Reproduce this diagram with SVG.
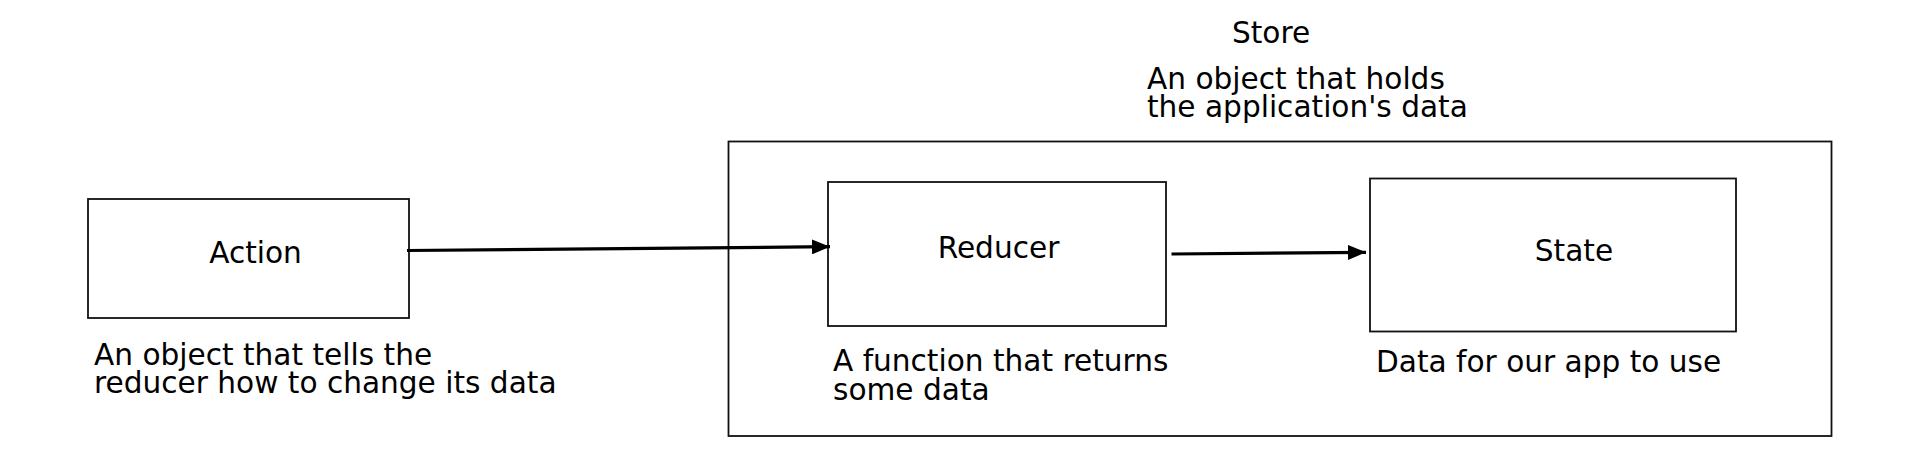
<svg xmlns="http://www.w3.org/2000/svg" width="1920" height="458" viewBox="0 0 1920 458">
  <style>
    .box { fill: none; stroke: #111; stroke-width: 1.8; }
    .t { font-family: "DejaVu Sans", sans-serif; font-size: 29.6px; fill: #000; }
    .c { text-anchor: middle; }
    .conn { stroke: #000; stroke-width: 3.2; fill: none; }
  </style>
  <defs>
    <marker id="arrow" markerWidth="18" markerHeight="15" refX="18" refY="7.5" orient="auto" markerUnits="userSpaceOnUse">
      <path d="M0,0 L18,7.5 L0,15 Z" fill="#000"/>
    </marker>
  </defs>
  <rect width="1920" height="458" fill="#fff"/>

  <g id="store">
    <rect class="box" x="728.5" y="141.5" width="1103" height="294.5"/>
    <text class="t c" x="1271" y="43">Store</text>
    <text class="t" x="1147" y="89">An object that holds</text>
    <text class="t" x="1147" y="117">the application's data</text>
  </g>

  <g id="action">
    <rect class="box" x="88" y="199" width="321" height="119"/>
    <text class="t c" x="255.5" y="263">Action</text>
    <text class="t" x="94" y="365">An object that tells the</text>
    <text class="t" x="94" y="393">reducer how to change its data</text>
  </g>

  <g id="reducer">
    <rect class="box" x="828" y="182" width="338" height="144"/>
    <text class="t c" x="998.5" y="258">Reducer</text>
    <text class="t" x="833" y="371">A function that returns</text>
    <text class="t" x="833" y="400">some data</text>
  </g>

  <g id="state">
    <rect class="box" x="1370" y="178.5" width="366" height="153"/>
    <text class="t c" x="1574" y="261">State</text>
    <text class="t" x="1376" y="372">Data for our app to use</text>
  </g>

  <g id="connectors">
    <line class="conn" x1="407" y1="250.5" x2="830" y2="246.7" marker-end="url(#arrow)"/>
    <line class="conn" x1="1171.5" y1="254" x2="1366" y2="252.3" marker-end="url(#arrow)"/>
  </g>
</svg>
